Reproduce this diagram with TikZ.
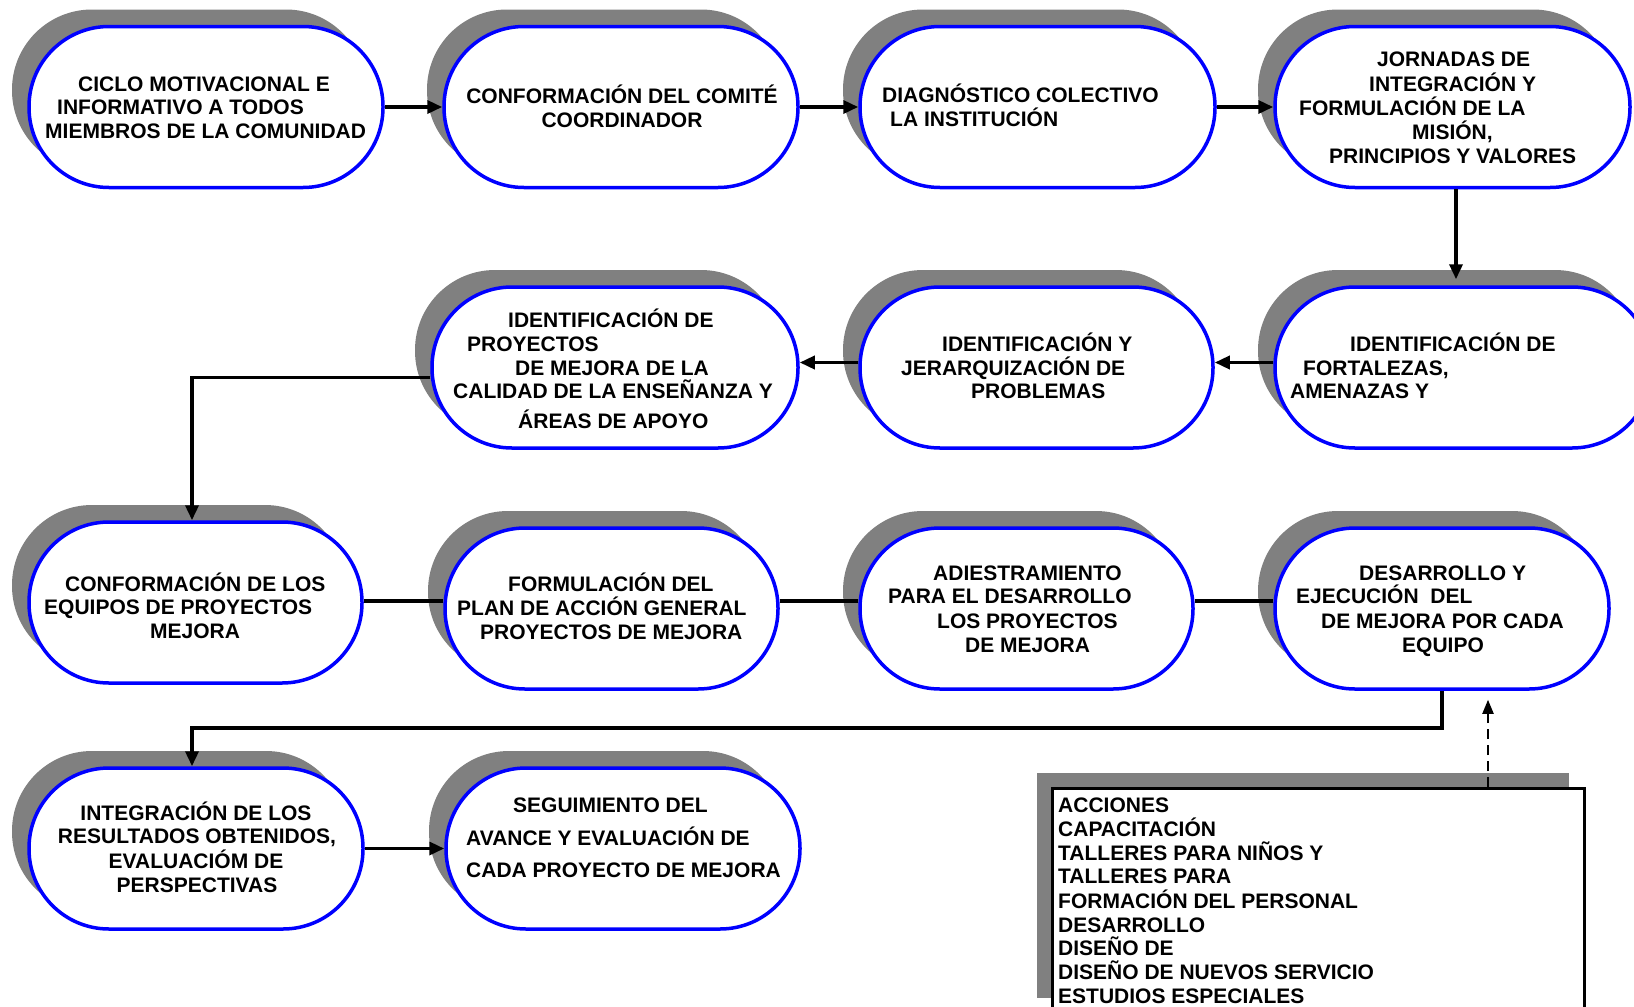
\documentclass[tikz,border=0pt]{standalone}
\usepackage{fontspec}
\setmainfont{Liberation Sans}
\usetikzlibrary{arrows.meta,shadows}
\definecolor{pillblue}{RGB}{0,0,255}
\definecolor{shadowgray}{RGB}{128,128,128}

\begin{document}
\begin{tikzpicture}[x=1pt,y=-1pt,
  pill/.style={draw=pillblue, line width=3.5pt, fill=white, rounded corners=80pt,
    inner sep=0pt, minimum height=161pt,
    drop shadow={shadow xshift=-17pt, shadow yshift=17pt, fill=shadowgray, opacity=1}},
  lbl/.style={anchor=base west, inner sep=0pt, font=\bfseries\fontsize{21}{24}\selectfont},
  clbl/.style={lbl, anchor=base},
  link/.style={draw=black, line width=3.5pt},
  arr/.style={link, -{Triangle[length=15pt,width=13pt]}},
  dasharr/.style={draw=black, line width=2pt, dash pattern=on 10pt off 6pt,
    -{Triangle[length=14pt,width=11pt]}},
]
\useasboundingbox (0,0) rectangle (1634,1007);
\fill[white] (0,0) rectangle (1634,1007);
\clip (0,0) rectangle (1634,1007);

% ---- row 1 ----
\node[pill, minimum width=354pt] (B1) at (206,107) {};
\node[pill, minimum width=354pt] (B2) at (621,107) {};
\node[pill, minimum width=355pt] (B3) at (1037.5,107) {};
\node[pill, minimum width=355pt] (B4) at (1452.5,107) {};
% ---- row 2 ----
\node[pill, minimum width=377pt] (B5) at (1463.5,367.5) {};
\node[pill, minimum width=353pt] (B6) at (1036.5,367.5) {};
\node[pill, minimum width=366pt] (B7) at (615,367.5) {};
% ---- row 3 ----
\node[pill, minimum width=333pt] (B8) at (195.5,602.5) {};
\node[pill, minimum width=333pt] (B9) at (611.5,608.5) {};
\node[pill, minimum width=333pt] (B10) at (1026.5,608.5) {};
\node[pill, minimum width=334pt] (B11) at (1442,608.5) {};
% ---- row 4 ----
\node[pill, minimum width=334pt] (B12) at (196,848.5) {};
\node[pill, minimum width=354pt] (B13) at (623,848.5) {};
% ---- list of actions ----
\node[draw=black, line width=3pt, fill=white, anchor=north west, inner sep=0pt,
  minimum width=532pt, minimum height=225pt,
  drop shadow={shadow xshift=-16pt, shadow yshift=16pt, fill=shadowgray, opacity=1}]
  (B14) at (1051,787) {};

% ---- texts ----
\node[lbl] (t1a) at (78,91) {CICLO MOTIVACIONAL E};
\node[lbl] (t1b) at (57,114) {INFORMATIVO A TODOS};
\node[lbl] (t1c) at (45,138) {MIEMBROS DE LA COMUNIDAD};

\node[clbl] (t2a) at (622,103) {CONFORMACIÓN DEL COMITÉ};
\node[clbl] (t2b) at (622,127) {COORDINADOR};

\node[lbl] (t3a) at (882,102) {DIAGNÓSTICO COLECTIVO};
\node[lbl] (t3b) at (890,126) {LA INSTITUCIÓN};

\node[lbl] (t4a) at (1377,66) {JORNADAS DE};
\node[lbl] (t4b) at (1369,91) {INTEGRACIÓN Y};
\node[lbl] (t4c) at (1299,115) {FORMULACIÓN DE LA};
\node[lbl] (t4d) at (1412,139) {MISIÓN,};
\node[lbl] (t4e) at (1329,163) {PRINCIPIOS Y VALORES};

\node[lbl] (t5a) at (1350,351) {IDENTIFICACIÓN DE};
\node[lbl] (t5b) at (1303,375) {FORTALEZAS,};
\node[lbl] (t5c) at (1290,398) {AMENAZAS Y};

\node[lbl] (t6a) at (942,351) {IDENTIFICACIÓN Y};
\node[lbl] (t6b) at (901,375) {JERARQUIZACIÓN DE};
\node[lbl] (t6c) at (971,398) {PROBLEMAS};

\node[lbl] (t7a) at (508,327) {IDENTIFICACIÓN DE};
\node[lbl] (t7b) at (467,351) {PROYECTOS};
\node[lbl] (t7c) at (515,375) {DE MEJORA DE LA};
\node[lbl] (t7d) at (453,398) {CALIDAD DE LA ENSEÑANZA Y};
\node[lbl] (t7e) at (518,428) {ÁREAS DE APOYO};

\node[lbl] (t8a) at (65,591) {CONFORMACIÓN DE LOS};
\node[lbl] (t8b) at (44,614) {EQUIPOS DE PROYECTOS};
\node[lbl] (t8c) at (150,638) {MEJORA};

\node[lbl] (t9a) at (508,591) {FORMULACIÓN DEL};
\node[lbl] (t9b) at (457,615) {PLAN DE ACCIÓN GENERAL};
\node[lbl] (t9c) at (480,639) {PROYECTOS DE MEJORA};

\node[lbl] (t10a) at (933,580) {ADIESTRAMIENTO};
\node[lbl] (t10b) at (888,603) {PARA EL DESARROLLO};
\node[lbl] (t10c) at (937,628) {LOS PROYECTOS};
\node[lbl] (t10d) at (965,652) {DE MEJORA};

\node[lbl] (t11a) at (1359,580) {DESARROLLO Y};
\node[lbl] (t11b) at (1296,603) {EJECUCIÓN\ \ DEL};
\node[lbl] (t11c) at (1321,628) {DE MEJORA POR CADA};
\node[lbl] (t11d) at (1402,652) {EQUIPO};

\node[clbl] (t12a) at (196,820) {INTEGRACIÓN DE LOS};
\node[clbl] (t12b) at (197,843) {RESULTADOS OBTENIDOS,};
\node[clbl] (t12c) at (196,868) {EVALUACIÓM DE};
\node[clbl] (t12d) at (197,892) {PERSPECTIVAS};

\node[lbl] (t13a) at (513,812) {SEGUIMIENTO DEL};
\node[lbl] (t13b) at (466,845) {AVANCE Y EVALUACIÓN DE};
\node[lbl] (t13c) at (466,877) {CADA PROYECTO DE MEJORA};

\node[lbl] (t14a) at (1058,812) {ACCIONES};
\node[lbl] (t14b) at (1058,836) {CAPACITACIÓN};
\node[lbl] (t14c) at (1058,860) {TALLERES PARA NIÑOS Y};
\node[lbl] (t14d) at (1058,883) {TALLERES PARA};
\node[lbl] (t14e) at (1058,908) {FORMACIÓN DEL PERSONAL};
\node[lbl] (t14f) at (1058,932) {DESARROLLO};
\node[lbl] (t14g) at (1058,955) {DISEÑO DE};
\node[lbl] (t14h) at (1058,979) {DISEÑO DE NUEVOS SERVICIO};
\node[lbl] (t14i) at (1058,1003) {ESTUDIOS ESPECIALES};

% ---- connectors ----
\coordinate (r3) at (0,601);
\coordinate (r4) at (0,728);
\coordinate (dx) at (1488,0);
\coordinate (vx) at (1456,0);
\coordinate (lx) at (192,0);

\draw[arr] (B1.east) -- (B2.west);
\draw[arr] (B2.east) -- (B3.west);
\draw[arr] (B3.east) -- (B4.west);
\draw[arr, shorten >=6pt] (B4.south -| vx) -- (B5.north -| vx);
\draw[arr] ([yshift=5pt]B5.west) -- ([yshift=5pt]B6.east);
\draw[arr] ([yshift=5pt]B6.west) -- ([yshift=5pt]B7.east);
\draw[arr] ([yshift=-10pt]B7.west) -| (B8.north -| lx);
\draw[link] (B8.east |- r3) -- (B9.west |- r3);
\draw[link] (B9.east |- r3) -- (B10.west |- r3);
\draw[link] (B10.east |- r3) -- (B11.west |- r3);
\draw[arr] (B11.south) -- (B11.south |- r4) -| (B12.north -| lx);
\draw[arr] (B12.east) -- (B13.west);
\draw[dasharr, shorten >=9pt] (B14.north -| dx) -- (B11.south -| dx);
\end{tikzpicture}
\end{document}
